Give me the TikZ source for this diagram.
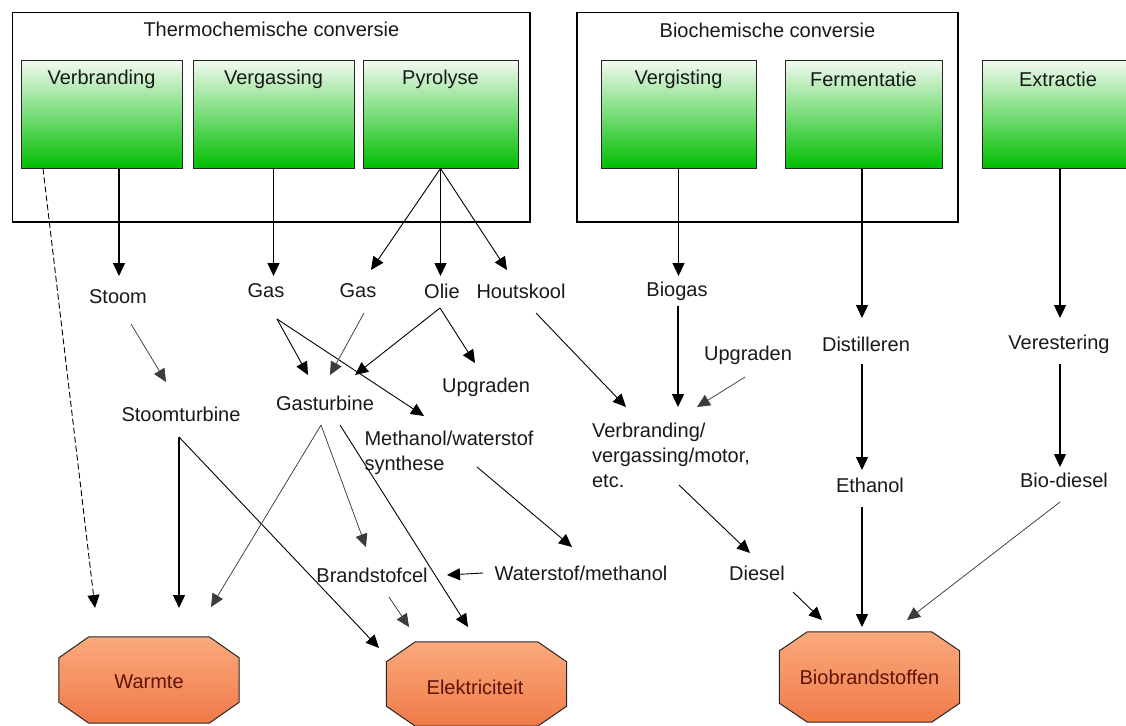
\documentclass[tikz,border=0pt]{standalone}
\usepackage{fontspec}
\setmainfont{Liberation Sans}
\usetikzlibrary{arrows.meta,calc}
\definecolor{txt}{RGB}{25,25,25}
\definecolor{gtop}{RGB}{240,250,240}
\definecolor{gbot}{RGB}{0,190,0}
\definecolor{otop}{RGB}{250,170,125}
\definecolor{obot}{RGB}{240,122,72}
\definecolor{otxt}{RGB}{95,20,10}
\definecolor{faintc}{RGB}{60,60,60}
\tikzset{
 lbl/.style={font=\fontsize{20}{25}\selectfont, text=txt, inner sep=0pt, align=left},
 frame/.style={draw=black, line width=1.1pt, inner sep=0pt, minimum height=209.3pt},
 gbox/.style={draw=black!85, line width=1pt, top color=gtop, bottom color=gbot, inner sep=0pt, minimum height=107pt},
 obox/.style={inner sep=0pt, minimum width=180pt},
 ofill/.style={draw=black!85, line width=1pt, top color=otop, bottom color=obot},
 otext/.style={font=\fontsize{20}{24}\selectfont, text=otxt, inner sep=0pt},
 tip/.style={-{Triangle[length=13pt,width=12pt]}},
 mainarr/.style={tip, line width=1.3pt, draw=black},
 diagarr/.style={tip, line width=0.9pt, draw=black},
 faintarr/.style={tip, line width=0.75pt, draw=faintc},
 dasharr/.style={tip, line width=0.9pt, draw=black, dash pattern=on 6pt off 3pt},
 gtitle/.style={lbl, anchor=center, yshift=-19pt},
 ftitle/.style={lbl, anchor=center, yshift=-18pt}
}
\begin{document}
\begin{tikzpicture}[x=1pt,y=-1pt]
\useasboundingbox (0,0) rectangle (1126,725);
\clip (0,0) rectangle (1126,725);
\fill[white] (0,0) rectangle (1126,725);

% frames
\node[frame, minimum width=517.3pt, label={[ftitle,yshift=1pt]north:Thermochemische conversie}] (thermo) at (271.35,117.35) {};
\node[frame, minimum width=381pt, label={[ftitle]north:Biochemische conversie}] (bioch) at (767.5,117.35) {};

% green process boxes
\node[gbox, minimum width=161pt, label={[gtitle]north:Verbranding}] (verbr) at (101.5,114.5) {};
\node[gbox, minimum width=161pt, label={[gtitle]north:Vergassing}] (vergas) at (273.5,114.5) {};
\node[gbox, minimum width=155pt, label={[gtitle]north:Pyrolyse}] (pyro) at (440.5,114.5) {};
\node[gbox, minimum width=155pt, label={[gtitle]north:Vergisting}] (vergis) at (678.5,114.5) {};
\node[gbox, minimum width=157pt, label={[gtitle]north:Fermentatie}] (ferm) at (863.5,114.5) {};
\node[gbox, minimum width=148pt, label={[gtitle,xshift=2pt]north:Extractie}] (extr) at (1056,114.5) {};

% text labels
\node[lbl] (stoom) at (118,297) {Stoom};
\node[lbl] (gas1) at (266,291) {Gas};
\node[lbl] (gas2) at (358,291) {Gas};
\node[lbl] (olie) at (442,291) {Olie};
\node[lbl] (hout) at (521,291) {Houtskool};
\node[lbl] (biogas) at (677,291) {Biogas};
\node[lbl] (distil) at (866,344) {Distilleren};
\node[lbl] (veres) at (1059,344) {Verestering};
\node[lbl] (stturb) at (181,414) {Stoomturbine};
\node[lbl] (gturb) at (325,403) {Gasturbine};
\node[lbl] (upg1) at (486,387) {Upgraden};
\node[lbl] (upg2) at (748,355) {Upgraden};
\node[lbl] (meth) at (449,452.5) {Methanol/waterstof\\synthese};
\node[lbl] (verb2) at (671,455) {Verbranding/\\vergassing/motor,\\etc.};
\node[lbl] (ethanol) at (870,485) {Ethanol};
\node[lbl] (biodiesel) at (1064,480) {Bio-diesel};
\node[lbl] (brand) at (372,575) {Brandstofcel};
\node[lbl] (water) at (581,573) {Waterstof/methanol};
\node[lbl] (diesel) at (757,573) {Diesel};

% octagon end products
\node[obox, minimum height=86pt] (warmte) at (149,680) {};
\path[ofill] ([xshift=30pt]warmte.north west) -- ([xshift=-30pt]warmte.north east) -- ([yshift=-21pt]warmte.north east) -- ([yshift=21pt]warmte.south east) -- ([xshift=-30pt]warmte.south east) -- ([xshift=30pt]warmte.south west) -- ([yshift=21pt]warmte.south west) -- ([yshift=-21pt]warmte.north west) -- cycle;
\node[otext] (warmteT) at ($(warmte)+(0,2)$) {Warmte};

\node[obox, minimum height=84pt] (elek) at (476.5,684) {};
\path[ofill] ([xshift=29pt]elek.north west) -- ([xshift=-29pt]elek.north east) -- ([yshift=-20pt]elek.north east) -- ([yshift=20pt]elek.south east) -- ([xshift=-29pt]elek.south east) -- ([xshift=29pt]elek.south west) -- ([yshift=20pt]elek.south west) -- ([yshift=-20pt]elek.north west) -- cycle;
\node[otext] (elekT) at ($(elek)+(-1.5,3)$) {Elektriciteit};

\node[obox, minimum height=90pt] (biob) at (869.5,677) {};
\path[ofill] ([xshift=28pt]biob.north west) -- ([xshift=-28pt]biob.north east) -- ([yshift=-19pt]biob.north east) -- ([yshift=19pt]biob.south east) -- ([xshift=-28pt]biob.south east) -- ([xshift=28pt]biob.south west) -- ([yshift=19pt]biob.south west) -- ([yshift=-19pt]biob.north west) -- cycle;
\node[otext] (biobT) at (biob) {Biobrandstoffen};

% connectors from process boxes
\draw[dasharr] ($(verbr.south)+(-58.5,0)$) -- ($(warmte)+(-54,-72)$);
\draw[mainarr] ($(verbr.south)+(17.5,0)$) -- ($(stoom)+(1,-21)$);
\draw[mainarr] (vergas.south) -- ($(gas1)+(7.5,-15)$);
\draw[diagarr] (pyro.south) -- ($(gas2)+(13,-21)$);
\draw[mainarr] (pyro.south) -- ($(olie)+(-1.5,-15)$);
\draw[diagarr] (pyro.south) -- ($(hout)+(-14,-21)$);
\draw[mainarr] (vergis.south) -- ($(biogas)+(1.5,-15)$);
\draw[mainarr] ($(ferm.south)+(-1.5,0)$) -- ($(distil)+(-4,-26)$);
\draw[mainarr] ($(extr.south)+(4,0)$) -- ($(veres)+(1,-26)$);

% middle connectors
\draw[faintarr] ($(stoom)+(13,27)$) -- ($(stturb)+(-15,-32)$);
\draw[diagarr] ($(gas1)+(11,28)$) -- ($(gturb)+(-17,-28)$);
\draw[diagarr] ($(gas1)+(11,28)$) -- ($(meth)+(-25,-36.5)$);
\draw[faintarr] ($(gas2)+(6,22)$) -- ($(gturb)+(5,-28)$);
\draw[diagarr] ($(olie)+(-2,17)$) -- ($(gturb)+(30,-28)$);
\draw[diagarr] ($(olie)+(-2,17)$) -- ($(upg1)+(-11,-24)$);
\draw[diagarr] ($(hout)+(15,22)$) -- ($(verb2)+(-45,-48)$);
\draw[mainarr] ($(biogas)+(1,15)$) -- ($(verb2)+(7,-48)$);
\draw[faintarr] ($(upg2)+(-3,22)$) -- ($(verb2)+(26,-48)$);
\draw[mainarr] ($(distil)+(-4,20)$) -- ($(ethanol)+(-8,-15)$);
\draw[mainarr] ($(veres)+(1,20)$) -- ($(biodiesel)+(-4,-13)$);

% lower connectors
\draw[mainarr] ($(stturb)+(-2,23)$) -- ($(warmte)+(30,-72)$);
\draw[diagarr] ($(stturb)+(-2,23)$) -- ($(elek)+(-97.5,-36)$);
\draw[faintarr] ($(gturb)+(-4,22)$) -- ($(warmte)+(62,-73)$);
\draw[faintarr] ($(gturb)+(-4,22)$) -- ($(brand)+(-6,-28)$);
\draw[diagarr] ($(gturb)+(15,22)$) -- ($(elek)+(-8.5,-57)$);
\draw[diagarr] ($(meth)+(28,14.5)$) -- ($(water)+(-9,-26)$);
\draw[diagarr] ($(water)+(-98,0)$) -- ($(brand)+(75,0)$);
\draw[faintarr] ($(brand)+(17,22)$) -- ($(elek)+(-67.5,-57)$);
\draw[diagarr] ($(verb2)+(8,30)$) -- ($(diesel)+(-7,-20)$);
\draw[diagarr] ($(diesel)+(36,19)$) -- ($(biob)+(-47.5,-57)$);
\draw[mainarr] ($(ethanol)+(-8,22)$) -- ($(biob)+(-7.5,-50)$);
\draw[faintarr] ($(biodiesel)+(-4,22)$) -- ($(biob)+(37.5,-57)$);
\end{tikzpicture}
\end{document}
